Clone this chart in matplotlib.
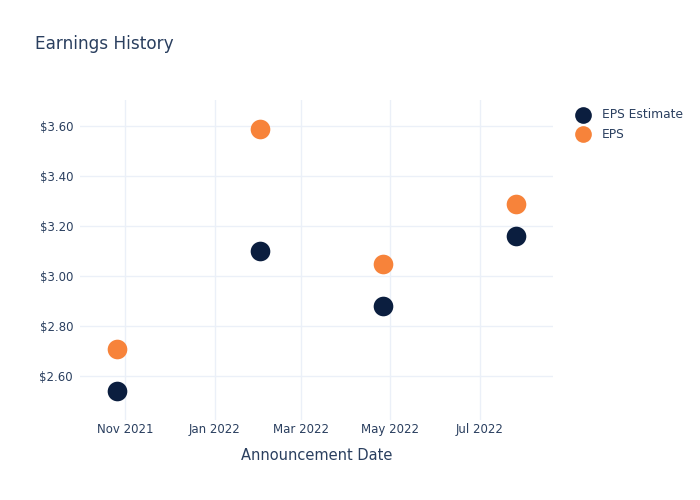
import pandas as pd
import matplotlib
matplotlib.use("Agg")
import matplotlib.pyplot as plt
import matplotlib.dates as mdates
from matplotlib.ticker import FuncFormatter

# --- data ---
dates = pd.to_datetime(["2021-10-26", "2022-02-01", "2022-04-26", "2022-07-26"])
eps_estimate = [2.54, 3.10, 2.88, 3.16]
eps_actual = [2.71, 3.59, 3.05, 3.29]

text_color = "#2a3f5f"
navy = "#0b1e3f"
orange = "#f7833a"
grid_color = "#ebf0f8"

fig = plt.figure(figsize=(7, 5), dpi=100)
ax = fig.add_axes([80 / 700, 80 / 500, 473 / 700, 320 / 500])

ax.scatter(dates, eps_estimate, s=200, color=navy, label="EPS Estimate", zorder=3, linewidths=0)
ax.scatter(dates, eps_actual, s=200, color=orange, label="EPS", zorder=3, linewidths=0)

ax.set_xlim(pd.Timestamp("2021-10-01"), pd.Timestamp("2022-08-20"))
ax.set_ylim(2.424, 3.704)

ax.xaxis.set_major_locator(mdates.MonthLocator(bymonth=[1, 3, 5, 7, 11]))
ax.xaxis.set_major_formatter(mdates.DateFormatter("%b %Y"))
ax.set_yticks([2.6, 2.8, 3.0, 3.2, 3.4, 3.6])
ax.yaxis.set_major_formatter(FuncFormatter(lambda v, p: f"${v:.2f}"))

ax.grid(True, color=grid_color, linewidth=1)
ax.set_axisbelow(True)
for s in ax.spines.values():
    s.set_visible(False)
ax.tick_params(length=0, colors=text_color, labelsize=8.5)
ax.tick_params(axis="x", pad=2)
ax.tick_params(axis="y", pad=5)

ax.set_xlabel("Announcement Date", color=text_color, fontsize=10.5, labelpad=9)
fig.text(35 / 700, 1 - 44 / 500, "Earnings History", color=text_color, fontsize=12.2, va="center")

leg = ax.legend(loc="upper left", bbox_to_anchor=(566 / 700, 1 - 103 / 500),
                bbox_transform=fig.transFigure, frameon=False, fontsize=8.8,
                handletextpad=0.55, labelspacing=0.55, borderaxespad=0, markerscale=0.85)
for t in leg.get_texts():
    t.set_color(text_color)

fig.savefig("out.png", dpi=100)
